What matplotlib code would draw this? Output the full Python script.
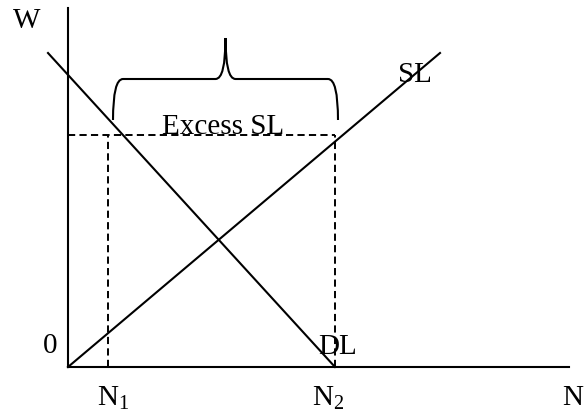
import matplotlib
matplotlib.use("Agg")
import matplotlib.pyplot as plt
from matplotlib.path import Path
from matplotlib.patches import PathPatch

plt.rcParams['font.family'] = ['Liberation Serif', 'DejaVu Serif']
plt.rcParams['mathtext.fontset'] = 'custom'
plt.rcParams['mathtext.rm'] = 'Liberation Serif'
plt.rcParams['mathtext.it'] = 'Liberation Serif:italic'

# Data (diagram units: N horizontally, W vertically)
dl_n = [-20, 267]          # demand for labour line endpoints (N)
dl_w = [314, 0]            # (W)
sl_n = [0, 372]            # supply of labour line endpoints (N)
sl_w = [0, 314]
w_level = 232              # wage above equilibrium
n1, n2 = 40, 267           # quantities demanded / supplied at w_level
x_axis_end = 501
y_axis_end = 359
brace_left, brace_right = 45, 270
brace_bottom, brace_top, brace_tip = 247, 288, 329

fig = plt.figure(figsize=(5.84, 4.15), dpi=100)
ax = fig.add_axes([0, 0, 1, 1])
ax.set_xlim(-68, 516)
ax.set_ylim(-48, 367)
ax.axis('off')

lw = 1.5
# axes
ax.plot([0, 0], [0, y_axis_end], color='black', lw=lw)
ax.plot([0, x_axis_end], [0, 0], color='black', lw=lw)
# curves
ax.plot(dl_n, dl_w, color='black', lw=lw)
ax.plot(sl_n, sl_w, color='black', lw=lw)
# dashed guides
ds = (0, (3.7, 2.2))
dlw = 1.4
ax.plot([0, n2], [w_level, w_level], color='black', lw=dlw, linestyle=ds)
ax.plot([n1, n1], [0, w_level], color='black', lw=dlw, linestyle=ds)
ax.plot([n2, n2], [0, w_level], color='black', lw=dlw, linestyle=ds)

# curly brace
mid = (brace_left + brace_right) / 2
r = 10
verts = [
    (brace_left, brace_bottom),
    (brace_left, brace_top), (brace_left + r, brace_top),
    (mid - r, brace_top),
    (mid, brace_top), (mid, brace_tip),
    (mid, brace_top), (mid + r, brace_top),
    (brace_right - r, brace_top),
    (brace_right, brace_top), (brace_right, brace_bottom),
]
codes = [Path.MOVETO,
         Path.CURVE3, Path.CURVE3,
         Path.LINETO,
         Path.CURVE3, Path.CURVE3,
         Path.CURVE3, Path.CURVE3,
         Path.LINETO,
         Path.CURVE3, Path.CURVE3]
ax.add_patch(PathPatch(Path(verts, codes), fill=False, lw=lw, edgecolor='black'))

fs = 21
ax.text(-41, 346, 'W', fontsize=fs, ha='center', va='center')
ax.text(-18, 21, '0', fontsize=fs, ha='center', va='center')
ax.text(n1 + 5, -31, r'N$_{\mathrm{1}}$', fontsize=fs, ha='center', va='center')
ax.text(n2 - 7, -31, r'N$_{\mathrm{2}}$', fontsize=fs, ha='center', va='center')
ax.text(505, -31, 'N', fontsize=fs, ha='center', va='center')
ax.text(270, 20, 'DL', fontsize=fs, ha='center', va='center')
ax.text(347, 292, 'SL', fontsize=fs, ha='center', va='center')
ax.text(155, 240, 'Excess SL', fontsize=fs, ha='center', va='center')

fig.savefig('out.png', dpi=100)
